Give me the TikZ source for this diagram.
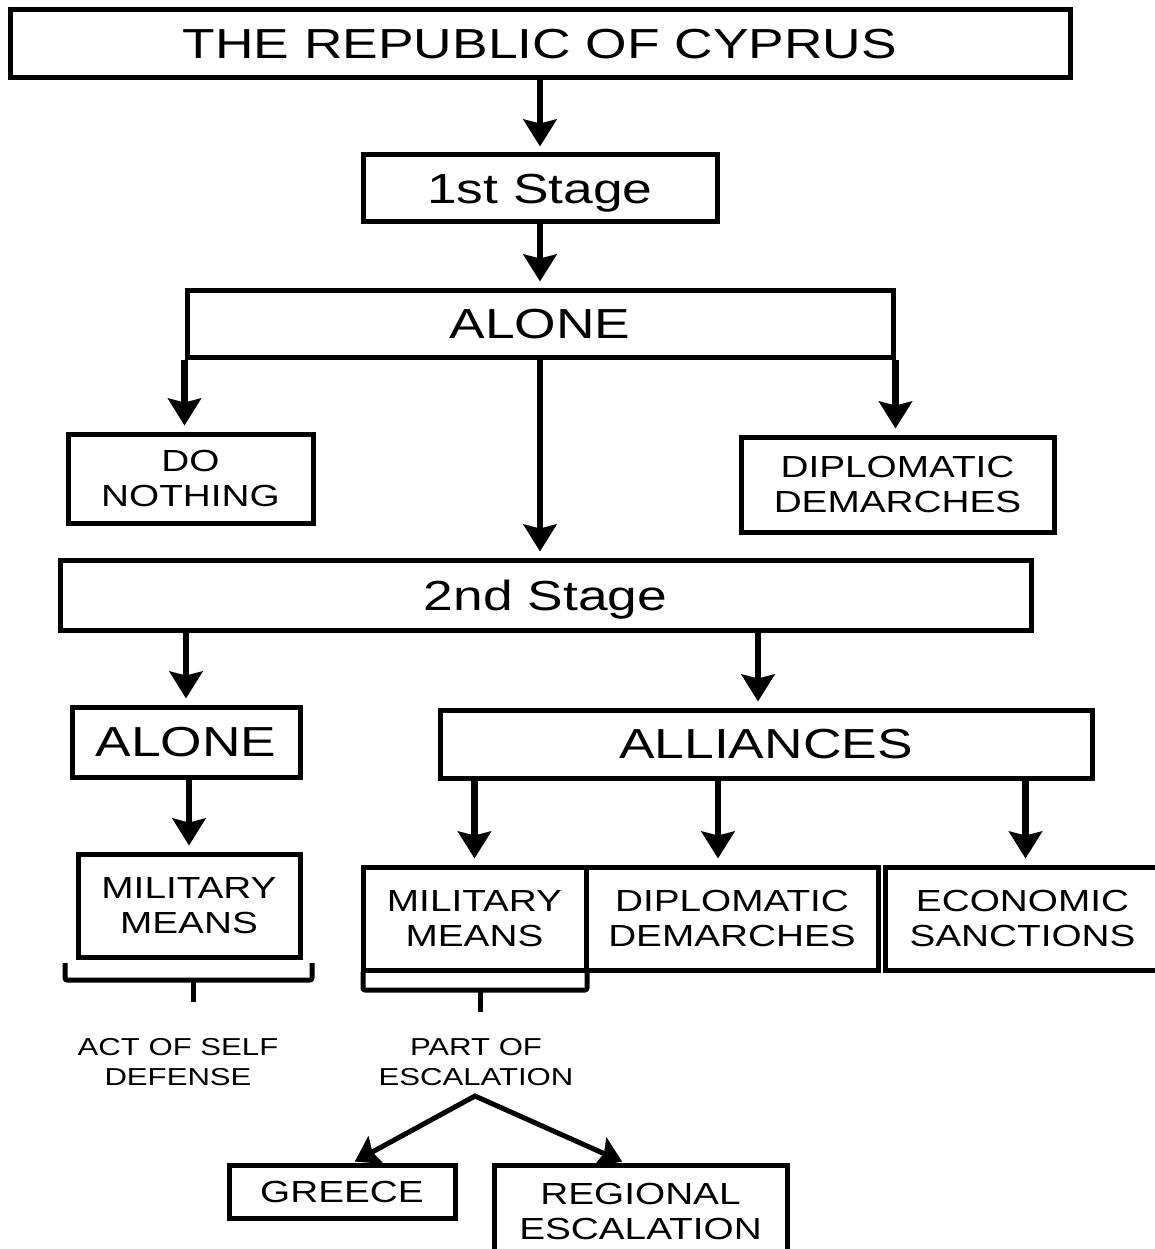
\documentclass[tikz,border=0pt]{standalone}
\usepackage{fontspec}
\setmainfont{Liberation Sans}[FakeStretch=1.27]
\usetikzlibrary{arrows.meta}
\begin{document}
\begin{tikzpicture}[x=1pt,y=-1pt,
  box/.style={draw=black, line width=5pt, inner sep=0pt, align=center, text depth=0pt},
  big/.style={font=\fontsize{42}{48}\selectfont},
  mid/.style={font=\fontsize{30.5}{35.5}\selectfont},
  small/.style={font=\fontsize{24.5}{30}\selectfont},
  link/.style={line width=6.5pt, shorten >=6pt,
    -{Stealth[width=33pt,length=27pt,inset=4pt]}},
  fork/.style={line width=5pt, line join=miter, shorten >=2pt, shorten <=2pt,
    {Stealth[width=31pt,length=24pt,inset=4pt]}-{Stealth[width=31pt,length=24pt,inset=4pt]}},
  bracket/.style={line width=5pt, line join=round, rounded corners=2pt}]
\useasboundingbox (0,0) rectangle (1154,1249);
\fill[white] (0,0) rectangle (1154,1249);

% boxes
\node[box,big,minimum width=1060pt,minimum height=68pt] (rep) at (540,44) {THE REPUBLIC OF CYPRUS};
\node[box,big,minimum width=354pt,minimum height=67pt] (st1) at (540,188.5) {1st Stage};
\node[box,big,minimum width=706pt,minimum height=67pt] (al1) at (540,323.5) {ALONE};
\node[box,mid,minimum width=245pt,minimum height=89pt] (dn) at (190.5,478.5) {DO\\NOTHING};
\node[box,mid,minimum width=313pt,minimum height=95pt] (dip1) at (897.5,484.5) {DIPLOMATIC\\DEMARCHES};
\node[box,big,minimum width=971pt,minimum height=70pt] (st2) at (545.5,595) {2nd Stage};
\node[box,big,minimum width=228pt,minimum height=70pt] (al2) at (186,742) {ALONE};
\node[box,big,minimum width=652pt,minimum height=68pt] (all) at (766,744) {ALLIANCES};
\node[box,mid,minimum width=222pt,minimum height=103pt] (mil1) at (189,905.5) {MILITARY\\MEANS};
\node[box,mid,minimum width=223pt,minimum height=103pt] (mil2) at (474.5,918.5) {MILITARY\\MEANS};
\node[box,mid,minimum width=292pt,minimum height=103pt] (dip2) at (732,918.5) {DIPLOMATIC\\DEMARCHES};
\node[box,mid,minimum width=275pt,minimum height=103pt] (eco) at (1022.5,918.5) {ECONOMIC\\SANCTIONS};
\node[box,mid,minimum width=226pt,minimum height=53pt] (gr) at (342,1191.5) {GREECE};
\node[box,mid,minimum width=293pt,minimum height=93pt] (re) at (640.5,1211.5) {REGIONAL\\ESCALATION};

% labels under the brackets
\node[small,align=center] (self) at (178,1062) {ACT OF SELF\\DEFENSE};
\node[small,align=center] (esc) at (476,1062) {PART OF\\ESCALATION};

% connectors
\draw[link] (rep.south) -- (st1.north);
\draw[link] (st1.south) -- (al1.north);
\draw[link] (al1.south west) -- (al1.south west |- dn.north);
\draw[link] (al1.south east) -- (al1.south east |- dip1.north);
\draw[link] (al1.south) -- (al1.south |- st2.north);
\draw[link] (al2.north |- st2.south) -- (al2.north);
\draw[link] ([xshift=-8pt]all.north |- st2.south) -- ([xshift=-8pt]all.north);
\draw[link] (mil1.north |- al2.south) -- (mil1.north);
\draw[link] (mil2.north |- all.south) -- (mil2.north);
\draw[link] ([xshift=-14pt]dip2.north |- all.south) -- ([xshift=-14pt]dip2.north);
\draw[link] ([xshift=3pt]eco.north |- all.south) -- ([xshift=3pt]eco.north);

% brackets
\draw[bracket] (65,963) -- (65,980) -- (312,980) -- (312,963);
\draw[line width=5pt] (193,980) -- (193,1002);
\draw[bracket] (363,972) -- (363,990) -- (587,990) -- (587,972);
\draw[line width=5pt] (480,990) -- (480,1012);

% fork below the escalation label
\coordinate (apex) at (475,1096);
\draw[fork] ([xshift=11pt]gr.north) -- (apex) -- ([xshift=-16.5pt]re.north);
\end{tikzpicture}
\end{document}
